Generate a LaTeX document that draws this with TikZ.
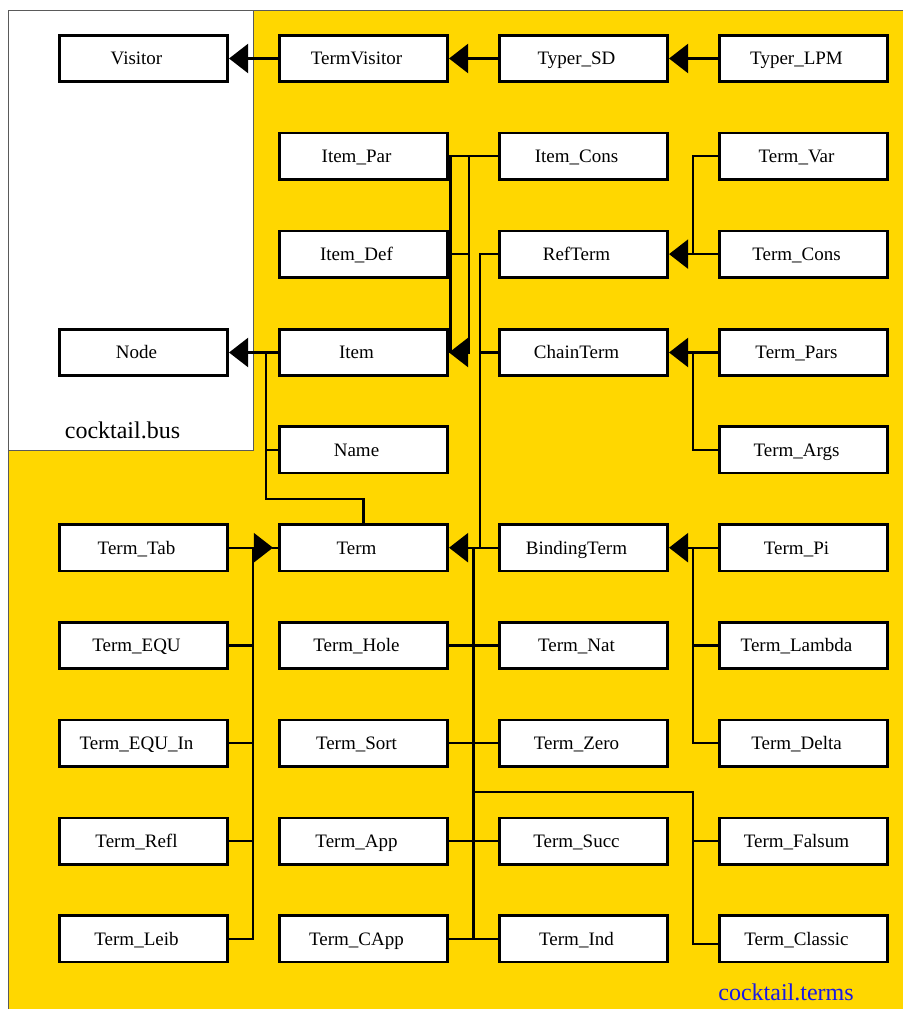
\documentclass[tikz,border=0pt]{standalone}
\usepackage{fontspec}
\setmainfont{Liberation Serif}
\usetikzlibrary{arrows.meta,calc}
\definecolor{pkggold}{RGB}{255,215,0}
\definecolor{pkgblue}{RGB}{25,25,230}
\definecolor{pkgframe}{RGB}{90,90,90}
\tikzset{
  cls/.style={draw=black, fill=white, line width=2.6pt,
    minimum width=168.5pt, minimum height=46.4pt, inner sep=0pt,
    font=\fontsize{19}{22}\selectfont, text height=12.6pt, text depth=0pt,
    execute at begin node={\hspace*{-14pt}}},
  link/.style={line width=2.2pt},
  inherit/.style={link, -{Triangle[length=19pt,width=29pt]}},
  pkglabel/.style={font=\fontsize{24}{28}\selectfont, anchor=base, inner sep=0pt}
}
\begin{document}
\begin{tikzpicture}[x=1pt,y=-1pt]
\useasboundingbox (0,0) rectangle (903,1009);

% packages
\fill[pkggold] (8,10) rectangle (903,1009);
\draw[pkgframe, line width=1pt] (903,10) -- (8,10) -- (8,1009);
\filldraw[fill=white, draw=pkgframe, line width=1pt] (8,10) rectangle (253,450);
\node[pkglabel] (busname) at (122.5,438) {cocktail.bus};
\node[pkglabel, text=pkgblue] (termsname) at (786,1000) {cocktail.terms};

% classes
\node[cls] (visitor)     at (143.5, 58.5) {Visitor};
\node[cls] (termvisitor) at (363.5, 58.5) {TermVisitor};
\node[cls] (typersd)     at (583.5, 58.5) {Typer\_SD};
\node[cls] (typerlpm)    at (803.5, 58.5) {Typer\_LPM};

\node[cls] (itempar)     at (363.5,156.3) {Item\_Par};
\node[cls] (itemcons)    at (583.5,156.3) {Item\_Cons};
\node[cls] (termvar)     at (803.5,156.3) {Term\_Var};

\node[cls] (itemdef)     at (363.5,254.1) {Item\_Def};
\node[cls] (refterm)     at (583.5,254.1) {RefTerm};
\node[cls] (termcons)    at (803.5,254.1) {Term\_Cons};

\node[cls] (node)        at (143.5,352.5) {Node};
\node[cls] (item)        at (363.5,352.5) {Item};
\node[cls] (chainterm)   at (583.5,352.5) {ChainTerm};
\node[cls] (termpars)    at (803.5,352.5) {Term\_Pars};

\node[cls] (name)        at (363.5,449.9) {Name};
\node[cls] (termargs)    at (803.5,449.9) {Term\_Args};

\node[cls] (termtab)     at (143.5,547.7) {Term\_Tab};
\node[cls] (term)        at (363.5,547.7) {Term};
\node[cls] (bindingterm) at (583.5,547.7) {BindingTerm};
\node[cls] (termpi)      at (803.5,547.7) {Term\_Pi};

\node[cls] (termequ)     at (143.5,645.5) {Term\_EQU};
\node[cls] (termhole)    at (363.5,645.5) {Term\_Hole};
\node[cls] (termnat)     at (583.5,645.5) {Term\_Nat};
\node[cls] (termlambda)  at (803.5,645.5) {Term\_Lambda};

\node[cls] (termequin)   at (143.5,743.3) {Term\_EQU\_In};
\node[cls] (termsort)    at (363.5,743.3) {Term\_Sort};
\node[cls] (termzero)    at (583.5,743.3) {Term\_Zero};
\node[cls] (termdelta)   at (803.5,743.3) {Term\_Delta};

\node[cls] (termrefl)    at (143.5,841.1) {Term\_Refl};
\node[cls] (termapp)     at (363.5,841.1) {Term\_App};
\node[cls] (termsucc)    at (583.5,841.1) {Term\_Succ};
\node[cls] (termfalsum)  at (803.5,841.1) {Term\_Falsum};

\node[cls] (termleib)    at (143.5,938.9) {Term\_Leib};
\node[cls] (termcapp)    at (363.5,938.9) {Term\_CApp};
\node[cls] (termind)     at (583.5,938.9) {Term\_Ind};
\node[cls] (termclassic) at (803.5,938.9) {Term\_Classic};

% bus lines
\coordinate (itembus)  at ([xshift=20pt]itempar.east);
\coordinate (termbus)  at ([xshift=31pt]term.east);
\coordinate (leafbus)  at ([xshift=24.5pt]term.east);
\coordinate (rightbus) at ([xshift=-25pt]termvar.west);
\coordinate (nodebus)  at ([xshift=-12pt]item.west);
\coordinate (tabbus)   at ([xshift=24pt]termtab.east);
\coordinate (termup)   at ($(name.south)!0.5!(term.north)$);
\coordinate (leafcross) at ($(termzero.south)!0.5!(termsucc.north)$);

% visitor chain
\draw[inherit] (termvisitor.west) -- (visitor.east);
\draw[inherit] (typersd.west) -- (termvisitor.east);
\draw[inherit] (typerlpm.west) -- (typersd.east);

% items
\draw[link] (itempar.east) -- (itemcons.west);
\draw[link] ([xshift=1.5pt]itempar.east) -- ([xshift=1.5pt]item.east);
\draw[link] (itemdef.east) -- (itemdef.east -| itembus);
\draw[inherit] (itemcons.west -| itembus) -- (item.east -| itembus) -- (item.east);

% nodes
\draw[inherit] (item.west) -- (node.east);
\draw[link] (name.west) -| (item.west -| nodebus);
\draw[link] (term.north) -- (termup) -| (name.west -| nodebus);

% terms on the right of Term
\draw[link] (refterm.west) -| (bindingterm.west -| termbus);
\draw[link] (chainterm.west) -- (chainterm.west -| termbus);
\draw[inherit] (bindingterm.west) -- (term.east);
\draw[link] (term.east -| leafbus) -- (termind.west -| leafbus);
\draw[link] (termhole.east) -- (termnat.west);
\draw[link] (termsort.east) -- (termzero.west);
\draw[link] (termapp.east) -- (termsucc.west);
\draw[link] (termcapp.east) -- (termind.west);
\draw[link] (leafcross -| leafbus) -| ([yshift=-5pt]termclassic.west -| rightbus) -- ([yshift=-5pt]termclassic.west);
\draw[link] (termfalsum.west) -- (termfalsum.west -| rightbus);

% refinements
\draw[link] (termvar.west) -| (refterm.east -| rightbus);
\draw[inherit] (termcons.west) -- (refterm.east);
\draw[inherit] (termpars.west) -- (chainterm.east);
\draw[link] (termargs.west) -| (chainterm.east -| rightbus);
\draw[inherit] (termpi.west) -- (bindingterm.east);
\draw[link] (termlambda.west) -- (termlambda.west -| rightbus);
\draw[link] (termdelta.west) -| (bindingterm.east -| rightbus);

% terms on the left of Term
\draw[link] ([xshift=-6pt]term.west) -- (term.west);
\draw[inherit] (termtab.east) -- ([xshift=-5pt]term.west);
\draw[link] (termleib.east) -| (termtab.east -| tabbus);
\draw[link] (termequ.east) -- (termequ.east -| tabbus);
\draw[link] (termequin.east) -- (termequin.east -| tabbus);
\draw[link] (termrefl.east) -- (termrefl.east -| tabbus);
\end{tikzpicture}
\end{document}
